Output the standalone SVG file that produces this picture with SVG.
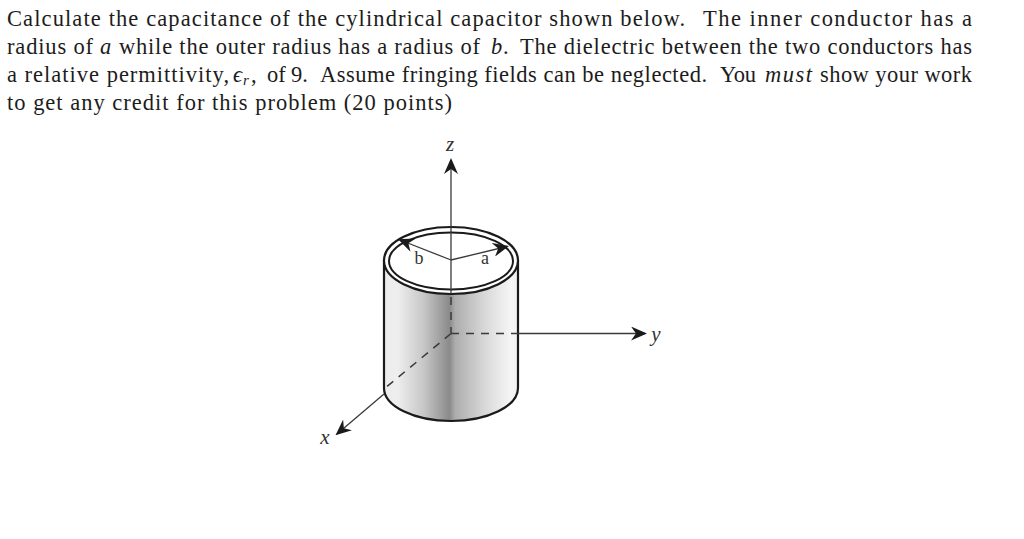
<svg xmlns="http://www.w3.org/2000/svg" width="1024" height="539" viewBox="0 0 1024 539">
  <style>
    .t { font-family: "Liberation Serif", "Times New Roman", serif; font-size: 22.5px; fill: #1c1c1c; }
    .m { font-family: "Liberation Serif", "Times New Roman", serif; font-style: italic; font-size: 21px; fill: #333; text-anchor: middle; }
    .l { font-family: "Liberation Serif", "Times New Roman", serif; font-size: 18px; fill: #333; text-anchor: middle; }
    .i { font-style: italic; }
    .s { font-size: 15px; font-style: italic; }
    .edge { fill: none; stroke: #1a1a1a; stroke-width: 2.2; }
    .ax { fill: none; stroke: #3a3a3a; stroke-width: 1.3; }
    .dash { fill: none; stroke: #3a3a3a; stroke-width: 1.5; stroke-dasharray: 8 7; }
  </style>
  <defs>
    <linearGradient id="shade" gradientUnits="userSpaceOnUse" x1="384" y1="0" x2="518" y2="0">
      <stop offset="0" stop-color="#ececec"/>
      <stop offset="0.1" stop-color="#eeeeee"/>
      <stop offset="0.3" stop-color="#c6c6c6"/>
      <stop offset="0.49" stop-color="#8a8a8a"/>
      <stop offset="0.53" stop-color="#acacac"/>
      <stop offset="0.75" stop-color="#d8d8d8"/>
      <stop offset="0.95" stop-color="#f6f6f6"/>
      <stop offset="1" stop-color="#f0f0f0"/>
    </linearGradient>
    <marker id="head" viewBox="0 0 16 14" refX="14" refY="7" markerWidth="16" markerHeight="14" markerUnits="userSpaceOnUse" orient="auto">
      <path d="M0 0 L16 7 L0 14 L5 7 Z" fill="#1a1a1a"/>
    </marker>
  </defs>

  <g id="problem-text">
    <text class="t" x="7" y="25.500" textLength="678" lengthAdjust="spacing">Calculate the capacitance of the cylindrical capacitor shown below.</text>
    <text class="t" x="703" y="25.500" textLength="269" lengthAdjust="spacing">The inner conductor has a</text>

    <text class="t" x="7" y="53.500" textLength="86" lengthAdjust="spacing">radius of</text>
    <text class="t i" x="100" y="53.500">a</text>
    <text class="t" x="119" y="53.500" textLength="361" lengthAdjust="spacing">while the outer radius has a radius of</text>
    <text class="t i" x="491" y="53.500">b</text>
    <text class="t" x="503" y="53.500">.</text>
    <text class="t" x="520" y="53.500" textLength="452" lengthAdjust="spacing">The dielectric between the two conductors has</text>

    <text class="t" x="7" y="81.500" textLength="222" lengthAdjust="spacing">a relative permittivity,</text>
    <text class="t i" x="233" y="81.500">ϵ</text>
    <text class="s t" x="243" y="85">r</text>
    <text class="t" x="251" y="81.500">,</text>
    <text class="t" x="267" y="81.500">of</text>
    <text class="t" x="291" y="81.500">9.</text>
    <text class="t" x="320" y="81.500" textLength="387" lengthAdjust="spacing">Assume fringing fields can be neglected.</text>
    <text class="t" x="720" y="81.500" textLength="36" lengthAdjust="spacing">You</text>
    <text class="t i" x="765" y="81.500" textLength="47" lengthAdjust="spacing">must</text>
    <text class="t" x="820" y="81.500" textLength="152" lengthAdjust="spacing">show your work</text>

    <text class="t" x="7" y="110" textLength="445" lengthAdjust="spacing">to get any credit for this problem (20 points)</text>
  </g>

  <g id="cylinder">
    <path d="M384 260 V388 A67 33 0 0 0 518 388 V260 A67 33.500 0 0 1 384 260 Z" fill="url(#shade)"/>
    <path class="edge" d="M384 260 V388 A67 33 0 0 0 518 388 V260"/>
    <ellipse cx="451" cy="260.500" rx="67" ry="33.500" fill="#fff" stroke="#1a1a1a" stroke-width="2.200"/>
    <ellipse cx="451" cy="261" rx="62" ry="28.500" fill="#fff" stroke="#1a1a1a" stroke-width="2"/>
  </g>

  <g id="connectors">
    <path class="ax" d="M451 294 V160" marker-end="url(#head)"/>
    <path class="dash" d="M451 297 V333"/>
    <path class="dash" d="M451 333.500 H518"/>
    <path class="ax" d="M518 333.500 H645" marker-end="url(#head)"/>
    <path class="dash" d="M451 333.500 L384 389"/>
    <path class="ax" d="M384 394 L337 434" marker-end="url(#head)"/>
    <path class="ax" d="M451 260 L400 240" marker-end="url(#head)"/>
    <path class="ax" d="M451 260 L507 246.500" marker-end="url(#head)"/>
  </g>

  <g id="label-b"><text class="l" x="419" y="264">b</text></g>
  <g id="label-a"><text class="l" x="485" y="264">a</text></g>
  <g id="label-z"><text class="m" x="450" y="151">z</text></g>
  <g id="label-y"><text class="m" x="656" y="341">y</text></g>
  <g id="label-x"><text class="m" x="325" y="444">x</text></g>
</svg>
